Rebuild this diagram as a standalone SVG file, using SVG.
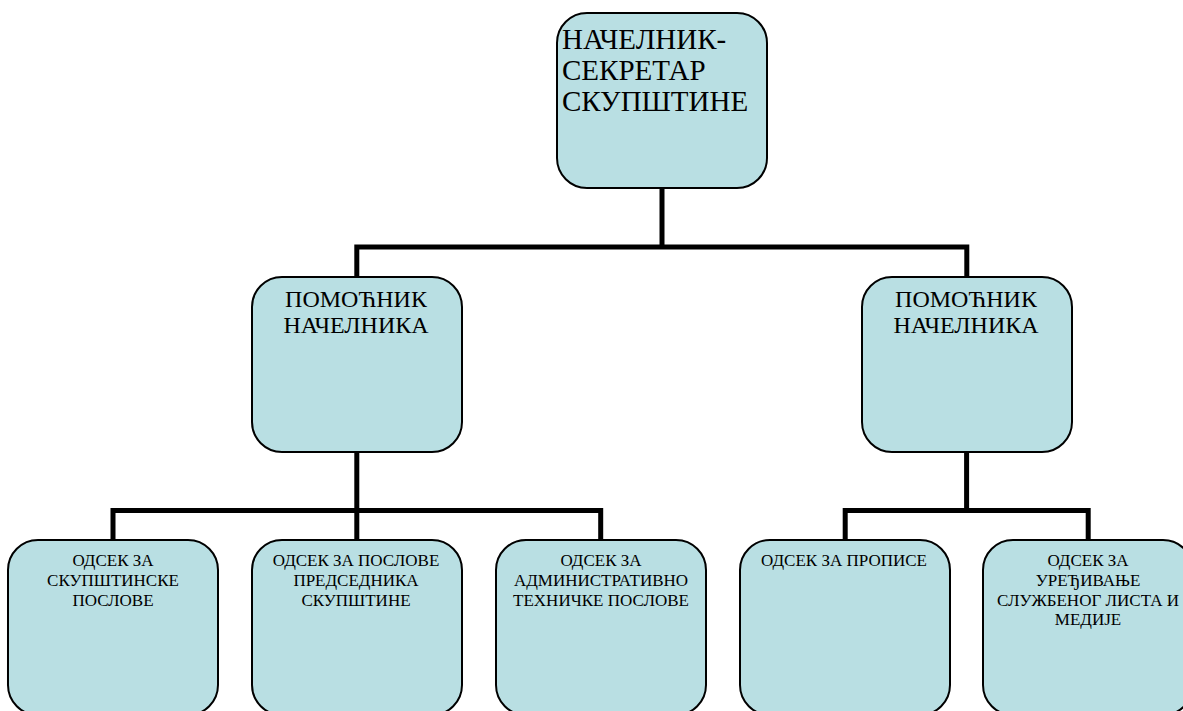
<svg xmlns="http://www.w3.org/2000/svg" width="1183" height="711" viewBox="0 0 1183 711">
<style>
.box{fill:#b9dfe3;stroke:#000;stroke-width:2}
.conn{fill:none;stroke:#000;stroke-width:5;stroke-linejoin:miter;stroke-linecap:square}
.t1{font-size:29px}
.t2{font-size:24px;text-anchor:middle}
.t3{font-size:17px;text-anchor:middle}
</style>
<rect width="1183" height="711" fill="#fff"/>
<g id="connectors">
<path class="conn" d="M662,188 V247 M356.8,276 V247 H966.8 V276"/>
<path class="conn" d="M356.8,452 V510.5 M113,539 V510.5 H600.7 V539 M356.8,510.5 V539"/>
<path class="conn" d="M966.6,452 V510.5 M845.2,539 V510.5 H1088.2 V539"/>
</g>
<g font-family="'Liberation Serif', 'Times New Roman', serif" fill="#000">
<g id="n-top">
<rect class="box" x="557" y="13" width="210" height="175" rx="30"/>
<text class="t1" x="562" y="49">НАЧЕЛНИК-</text>
<text class="t1" x="562" y="80">СЕКРЕТАР</text>
<text class="t1" x="562" y="111">СКУПШТИНЕ</text>
</g>
<g id="n-mid-left">
<rect class="box" x="252" y="277" width="210" height="175" rx="30"/>
<text class="t2" x="356" y="307">ПОМОЋНИК</text>
<text class="t2" x="356" y="333">НАЧЕЛНИКА</text>
</g>
<g id="n-mid-right">
<rect class="box" x="862" y="277" width="210" height="175" rx="30"/>
<text class="t2" x="966" y="307">ПОМОЋНИК</text>
<text class="t2" x="966" y="333">НАЧЕЛНИКА</text>
</g>
<g id="n-b1">
<rect class="box" x="8" y="540" width="210" height="175" rx="30"/>
<text class="t3" x="113" y="566">ОДСЕК ЗА</text>
<text class="t3" x="113" y="586">СКУПШТИНСКЕ</text>
<text class="t3" x="113" y="606">ПОСЛОВЕ</text>
</g>
<g id="n-b2">
<rect class="box" x="252" y="540" width="210" height="175" rx="30"/>
<text class="t3" x="356" y="566">ОДСЕК ЗА ПОСЛОВЕ</text>
<text class="t3" x="356" y="586">ПРЕДСЕДНИКА</text>
<text class="t3" x="356" y="606">СКУПШТИНЕ</text>
</g>
<g id="n-b3">
<rect class="box" x="496" y="540" width="210" height="175" rx="30"/>
<text class="t3" x="601" y="566">ОДСЕК ЗА</text>
<text class="t3" x="601" y="586">АДМИНИСТРАТИВНО</text>
<text class="t3" x="601" y="606">ТЕХНИЧКЕ ПОСЛОВЕ</text>
</g>
<g id="n-b4">
<rect class="box" x="740" y="540" width="210" height="175" rx="30"/>
<text class="t3" x="844" y="566">ОДСЕК ЗА ПРОПИСЕ</text>
</g>
<g id="n-b5">
<rect class="box" x="983" y="540" width="210" height="175" rx="30"/>
<text class="t3" x="1088" y="566">ОДСЕК ЗА</text>
<text class="t3" x="1088" y="586">УРЕЂИВАЊЕ</text>
<text class="t3" x="1088" y="606">СЛУЖБЕНОГ ЛИСТА И</text>
<text class="t3" x="1088" y="625">МЕДИЈЕ</text>
</g>
</g>
</svg>
